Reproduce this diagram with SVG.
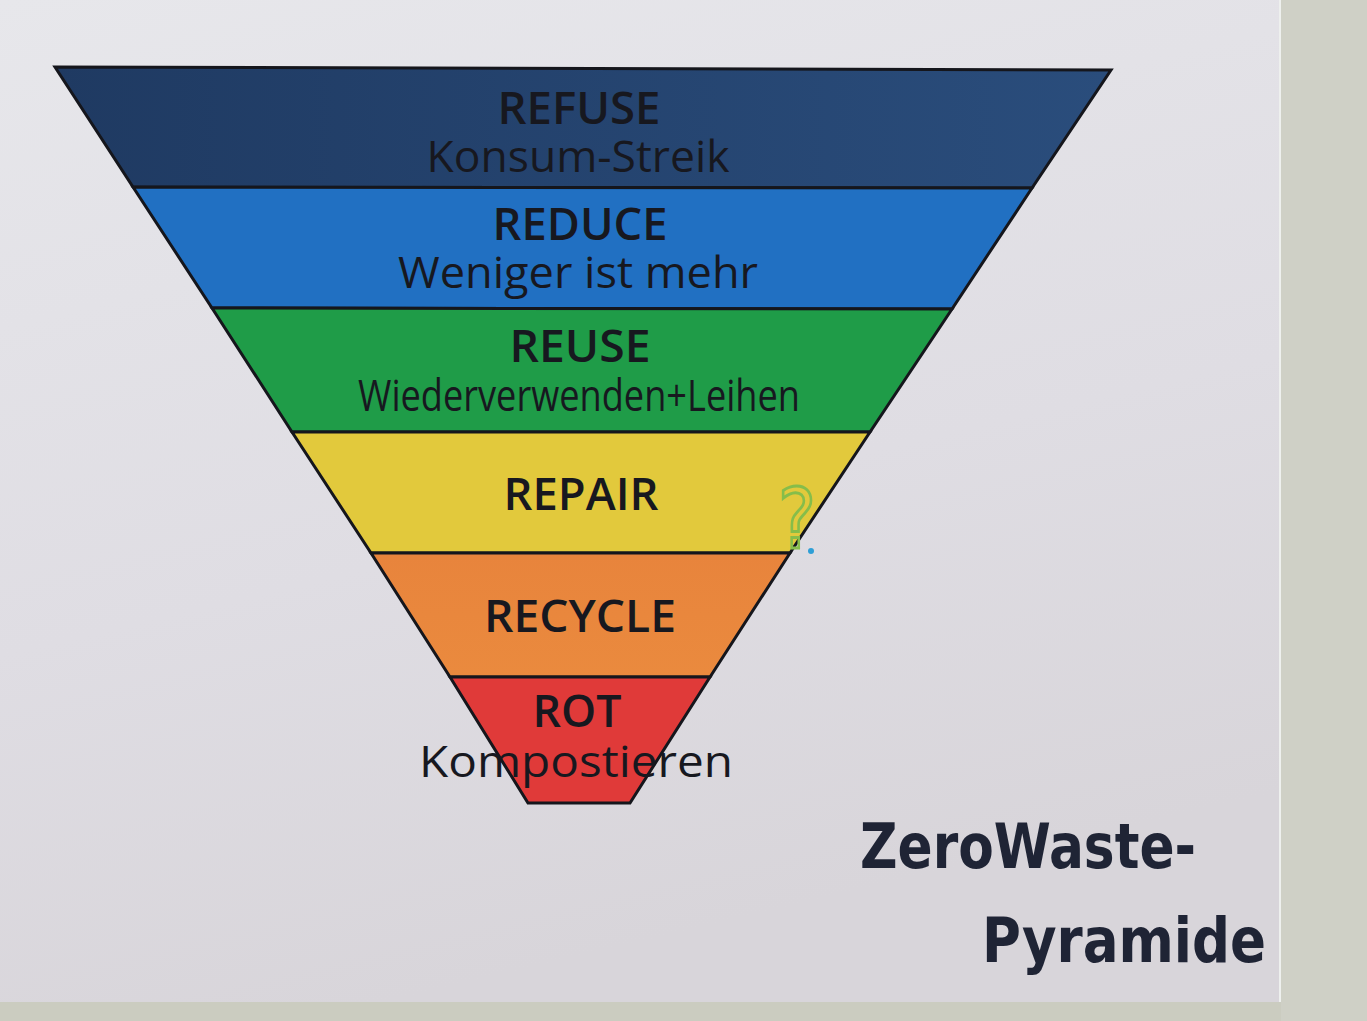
<svg xmlns="http://www.w3.org/2000/svg" width="1367" height="1021" viewBox="0 0 1367 1021">
<defs>
<linearGradient id="card" x1="0" y1="0" x2="0.3" y2="1">
<stop offset="0" stop-color="#e7e7eb"/>
<stop offset="0.6" stop-color="#dfdde3"/>
<stop offset="1" stop-color="#d8d5da"/>
</linearGradient>
<linearGradient id="navy" x1="0" y1="0" x2="1" y2="0">
<stop offset="0" stop-color="#1f3a62"/>
<stop offset="1" stop-color="#2a4d7c"/>
</linearGradient>
<linearGradient id="orange" x1="0" y1="0" x2="0" y2="1">
<stop offset="0" stop-color="#e8843c"/>
<stop offset="1" stop-color="#ea8a3e"/>
</linearGradient>
<style>
.band{stroke:#15161c;stroke-width:3;stroke-linejoin:miter}
.t{font-family:"Open Sans","Noto Sans","DejaVu Sans",sans-serif;fill:#17181f;text-anchor:middle}
.big{font-size:45px;font-weight:600}
.sub{font-size:43px}
.hand{font-family:"DejaVu Sans","Liberation Sans",sans-serif;font-weight:bold;fill:#1f2435}
</style>
</defs>
<rect x="0" y="0" width="1367" height="1021" fill="#cbccc0"/>
<rect x="1281" y="0" width="86" height="1021" fill="#cfd0c6"/>
<rect x="0" y="0" width="1280" height="1002" fill="url(#card)"/>
<line x1="1280" y1="0" x2="1280" y2="1002" stroke="#eef0ee" stroke-width="2"/>

<g id="refuse">
<polygon class="band" fill="url(#navy)" points="55,67 1111,70 1032,188 133,187"/>
<text class="t big" x="579" y="124" textLength="163" lengthAdjust="spacingAndGlyphs">REFUSE</text>
<text class="t sub" x="578" y="172" textLength="303" lengthAdjust="spacingAndGlyphs">Konsum-Streik</text>
</g>
<g id="reduce">
<polygon class="band" fill="#2170c2" points="133,187 1032,188 952,309 212,308"/>
<text class="t big" x="580" y="240" textLength="175" lengthAdjust="spacingAndGlyphs">REDUCE</text>
<text class="t sub" x="578" y="288" textLength="360" lengthAdjust="spacingAndGlyphs">Weniger ist mehr</text>
</g>
<g id="reuse">
<polygon class="band" fill="#1f9c48" points="212,308 952,309 870,432 292,432"/>
<text class="t big" x="580" y="362" textLength="141" lengthAdjust="spacingAndGlyphs">REUSE</text>
<text class="t sub" x="579" y="411" textLength="442" lengthAdjust="spacingAndGlyphs">Wiederverwenden+Leihen</text>
</g>
<g id="repair">
<polygon class="band" fill="#e2c93c" points="292,432 870,432 790,553 371,553"/>
<text class="t big" x="581" y="510" textLength="155" lengthAdjust="spacingAndGlyphs">REPAIR</text>
</g>
<g id="recycle">
<polygon class="band" fill="url(#orange)" points="371,553 790,553 710,677 450,677"/>
<text class="t big" x="580" y="632" textLength="192" lengthAdjust="spacingAndGlyphs">RECYCLE</text>
</g>
<g id="rot">
<polygon class="band" fill="#e03a39" points="450,677 710,677 630,803 528,803"/>
<text class="t big" x="577" y="727" textLength="89" lengthAdjust="spacingAndGlyphs">ROT</text>
<text class="t sub" x="576" y="777" textLength="314" lengthAdjust="spacingAndGlyphs">Kompostieren</text>
</g>

<g id="annotations">
<text x="797" y="548" font-family="DejaVu Sans, sans-serif" font-size="84" fill="none" stroke="#86bd4a" stroke-width="3" text-anchor="middle" textLength="38" lengthAdjust="spacingAndGlyphs">?</text>
<circle cx="811" cy="551" r="3" fill="#2f9fd6"/>
</g>

<g id="title">
<text class="hand" x="860" y="868" font-size="62" textLength="336" lengthAdjust="spacingAndGlyphs">ZeroWaste-</text>
<text class="hand" x="982" y="962" font-size="62" textLength="284" lengthAdjust="spacingAndGlyphs">Pyramide</text>
</g>
</svg>
